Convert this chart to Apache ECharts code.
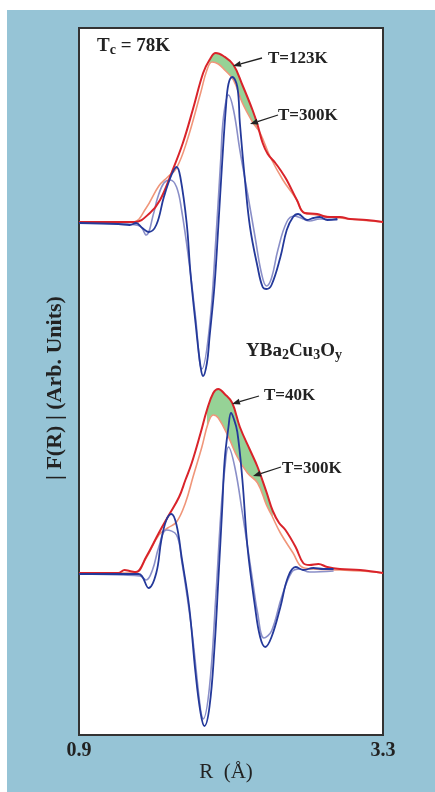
<!DOCTYPE html>
<html>
<head>
<meta charset="utf-8">
<script src="https://cdn.jsdelivr.net/npm/echarts@6/dist/echarts.min.js"></script>
<style>
  html, body { margin: 0; padding: 0; background: #fff; }
  #bg { position: absolute; left: 7px; top: 10px; width: 428px; height: 782px; background: #96c4d6; }
  #chart { position: absolute; left: 0; top: 0; width: 435px; height: 792px; }
</style>
</head>
<body>
<div id="bg"></div>
<div id="chart"></div>
<script>
// X axis: R in angstrom
const R_RANGE = [0.9, 3.3];
const R_TICKS = [0.9, 3.3];

// upper panel (Tc = 78K): [R, amplitude], baseline = 0
const topRed = [[0.90,0],[1.22,0],[1.34,0],[1.46,0.9],[1.54,2.2],[1.63,4.9],[1.72,7.9],[1.80,11.3],[1.88,14.9],[1.93,16.2],[1.98,16.9],[2.04,16.6],[2.12,15.7],[2.19,13.7],[2.27,11.2],[2.31,9.7],[2.35,7.9],[2.39,6.8],[2.45,5.9],[2.49,5.2],[2.54,4.2],[2.62,2.2],[2.68,0.9],[2.78,0.8],[2.86,0.5],[2.96,0.5],[3.04,0.3],[3.17,0.2],[3.30,0]];
const topOrange = [[0.90,0],[1.22,0],[1.33,0],[1.43,1.4],[1.53,3.6],[1.60,4.5],[1.67,5.4],[1.75,8.0],[1.86,12.9],[1.91,15.2],[1.95,16.0],[2.00,15.8],[2.05,15.2],[2.12,14.2],[2.19,11.9],[2.27,10.0],[2.33,8.9],[2.41,6.5],[2.51,4.2],[2.62,2.2],[2.67,1.0],[2.78,0.7],[2.96,0.4],[3.12,0.2],[3.30,0]];
const topBlue = [[0.90,-0.1],[1.21,-0.2],[1.30,-0.3],[1.35,-0.1],[1.40,-0.6],[1.45,-1.0],[1.51,-0.3],[1.57,2.5],[1.63,4.7],[1.67,5.5],[1.70,4.5],[1.75,-0.1],[1.78,-5.1],[1.82,-10.1],[1.86,-14.5],[1.88,-15.4],[1.91,-14.1],[1.93,-11.6],[1.97,-6.3],[2.00,-0.4],[2.03,5.9],[2.06,11.5],[2.08,13.8],[2.11,14.5],[2.15,13.5],[2.17,9.9],[2.21,4.2],[2.25,-0.5],[2.31,-4.5],[2.35,-6.5],[2.38,-6.7],[2.42,-6.3],[2.49,-3.5],[2.54,-0.8],[2.59,0.5],[2.63,0.8],[2.70,0.2],[2.75,0.4],[2.80,0.5],[2.86,0.2],[2.94,0.3]];
const topLight = [[0.90,-0.1],[1.25,-0.2],[1.38,-0.4],[1.43,-1.3],[1.49,0.9],[1.52,2.4],[1.57,3.9],[1.62,4.2],[1.67,3.5],[1.71,1.2],[1.77,-4.1],[1.82,-9.5],[1.87,-14.7],[1.93,-10.5],[1.98,-1.8],[2.02,6.5],[2.04,10.4],[2.08,12.7],[2.12,11.2],[2.17,7.2],[2.23,2.9],[2.29,-1.5],[2.34,-5.1],[2.38,-6.4],[2.42,-5.6],[2.47,-2.8],[2.54,0],[2.60,0.6],[2.67,0.3],[2.72,0.1],[2.80,0.3],[2.94,0.2]];

// lower panel (YBa2Cu3Oy, T=40K vs 300K)
const botRed = [[0.90,0],[1.21,0],[1.26,0.3],[1.30,0.2],[1.35,0.1],[1.43,1.6],[1.53,4.0],[1.61,5.8],[1.69,7.6],[1.74,9.3],[1.79,11.0],[1.86,14.0],[1.91,16.3],[1.96,18.0],[2.00,18.4],[2.05,17.9],[2.11,17.0],[2.17,14.6],[2.25,12.3],[2.31,10.6],[2.38,8.1],[2.43,6.2],[2.48,5.0],[2.53,4.3],[2.61,2.6],[2.67,1.0],[2.72,0.8],[2.79,0.9],[2.86,0.6],[2.96,0.4],[3.12,0.3],[3.30,0]];
const botOrange = [[0.90,0],[1.21,0],[1.34,0],[1.43,1.5],[1.53,3.8],[1.60,4.5],[1.67,5.1],[1.74,7.0],[1.80,9.6],[1.87,12.6],[1.92,15.0],[1.96,15.8],[2.00,15.5],[2.08,13.6],[2.15,11.6],[2.23,10.0],[2.31,9.0],[2.38,6.8],[2.42,5.8],[2.49,4.0],[2.59,2.0],[2.66,0.6],[2.75,0.4],[2.96,0.3],[3.12,0.2],[3.30,0]];
const botBlue = [[0.90,-0.1],[1.37,-0.1],[1.45,-1.5],[1.51,0],[1.55,3.3],[1.59,5.3],[1.63,5.9],[1.67,4.8],[1.71,1.6],[1.77,-3.4],[1.82,-10.0],[1.86,-14.0],[1.89,-15.3],[1.93,-13.4],[1.97,-7.4],[2.00,-0.7],[2.03,6.3],[2.05,11.3],[2.08,14.6],[2.10,16.0],[2.12,15.5],[2.15,14.1],[2.19,9.3],[2.23,2.6],[2.29,-3.4],[2.33,-6.4],[2.37,-7.4],[2.42,-6.4],[2.49,-3.4],[2.55,-0.4],[2.61,0.6],[2.67,0.3],[2.75,0.5],[2.83,0.4],[2.91,0.4]];
const botLight = [[0.90,-0.1],[1.25,-0.2],[1.38,-0.3],[1.43,-0.7],[1.48,0.3],[1.53,2.6],[1.59,4.3],[1.67,3.8],[1.71,1.3],[1.79,-5.7],[1.86,-13.7],[1.88,-14.6],[1.93,-11.4],[1.98,-2.4],[2.02,6.0],[2.05,10.3],[2.08,12.6],[2.13,10.6],[2.19,6.0],[2.27,-0.7],[2.31,-4.0],[2.36,-6.5],[2.42,-5.8],[2.50,-2.4],[2.58,0.1],[2.64,0.4],[2.72,0.1],[2.91,0.2]];

// R range of the green shaded difference
const topFill = [1.90, 2.33];
const botFill = [1.90, 2.44];

const FONT = '"Liberation Serif", "DejaVu Serif", serif';
const RED = '#d9232a';
const ORANGE = '#f0967a';
const BLUE = '#24399a';
const LIGHT = '#8a8fc8';
const GREEN = '#96d296';

const chart = echarts.init(document.getElementById('chart'));

function line(data, color, width, axis, z) {
    return {
        type: 'line', data: data, xAxisIndex: axis, yAxisIndex: axis,
        smooth: 0.4, symbol: 'none', silent: true, z: z,
        lineStyle: { color: color, width: width }
    };
}

function fill(data, range, color, axis, z) {
    return {
        type: 'line', xAxisIndex: axis, yAxisIndex: axis,
        data: data.filter(p => p[0] >= range[0] && p[0] <= range[1]),
        smooth: 0.4, symbol: 'none', silent: true, z: z,
        lineStyle: { width: 0 },
        areaStyle: { color: color, opacity: 1 }
    };
}

function arrow(x1, y1, x2, y2) {
    const a = Math.atan2(y2 - y1, x2 - x1);
    const L = 8, W = 3;
    const bx = x2 - L * Math.cos(a), by = y2 - L * Math.sin(a);
    return [
        { type: 'line', shape: { x1: x1, y1: y1, x2: bx, y2: by }, style: { stroke: '#222', lineWidth: 1.3 }, z: 10 },
        { type: 'polygon', shape: { points: [[x2, y2],
            [bx + W * Math.sin(a), by - W * Math.cos(a)],
            [bx - W * Math.sin(a), by + W * Math.cos(a)]] }, style: { fill: '#222' }, z: 10 }
    ];
}

function label(text, x, y, size, extra) {
    return Object.assign({
        type: 'text', x: x, y: y, z: 10,
        style: {
            text: text, fontFamily: FONT, fontWeight: 'bold', fontSize: size, fill: '#222',
            verticalAlign: 'middle',
            rich: { s: { fontFamily: FONT, fontWeight: 'bold', fontSize: size - 5, fill: '#222', padding: [8, 0, 0, 0] } }
        }
    }, extra || {});
}

const option = {
    animation: false,
    grid: [
        { left: 79, right: 52, top: 28, bottom: 57, show: true, backgroundColor: '#fff', borderColor: '#333', borderWidth: 2 },
        { left: 79, right: 52, top: 28, bottom: 57, show: false }
    ],
    xAxis: [
        {
            gridIndex: 0, type: 'value', min: R_RANGE[0], max: R_RANGE[1],
            axisLine: { show: false }, axisTick: { show: false }, splitLine: { show: false },
            axisLabel: {
                customValues: R_TICKS, margin: 6,
                fontFamily: FONT, fontWeight: 'bold', fontSize: 20, color: '#222',
                formatter: v => v.toFixed(1)
            }
        },
        { gridIndex: 1, type: 'value', min: R_RANGE[0], max: R_RANGE[1], show: false }
    ],
    yAxis: [
        { gridIndex: 0, type: 'value', min: -51.3, max: 19.4, show: false },
        { gridIndex: 1, type: 'value', min: -16.2, max: 54.5, show: false }
    ],
    series: [
        fill(topRed, topFill, GREEN, 0, 1),
        fill(topOrange, [topFill[0] - 0.06, topFill[1] + 0.06], '#fff', 0, 2),
        fill(botRed, botFill, GREEN, 1, 1),
        fill(botOrange, [botFill[0] - 0.06, botFill[1] + 0.06], '#fff', 1, 2),
        line(topOrange, ORANGE, 1.6, 0, 3),
        line(topLight, LIGHT, 1.6, 0, 3),
        line(topRed, RED, 2, 0, 4),
        line(topBlue, BLUE, 1.8, 0, 4),
        line(botOrange, ORANGE, 1.6, 1, 3),
        line(botLight, LIGHT, 1.6, 1, 3),
        line(botRed, RED, 2, 1, 4),
        line(botBlue, BLUE, 1.8, 1, 4)
    ],
    graphic: {
        elements: [
            label('T{s|c} = 78K', 97, 46, 19),
            label('T=123K', 268, 59, 17),
            label('T=300K', 278, 116, 17),
            label('YBa{s|2}Cu{s|3}O{s|y}', 246, 351, 19),
            label('T=40K', 264, 396, 17),
            label('T=300K', 282, 469, 17),
            { type: 'text', x: 55, y: 388, z: 10, rotation: Math.PI / 2, style: {
                text: '| F(R) | (Arb. Units)', fontFamily: FONT, fontWeight: 'bold', fontSize: 22, fill: '#222',
                align: 'center', verticalAlign: 'middle' } },
            { type: 'text', x: 226, y: 772, z: 10, style: {
                text: 'R  (Å)', fontFamily: FONT, fontSize: 21, fill: '#222',
                align: 'center', verticalAlign: 'middle' } }
        ].concat(
            arrow(262, 58, 233, 66),
            arrow(278, 115, 250, 124),
            arrow(259, 396, 232, 404),
            arrow(281, 467, 253, 476)
        )
    }
};

chart.setOption(option);

window.addEventListener('resize', function() {
    chart.resize();
});
</script>
</body>
</html>
